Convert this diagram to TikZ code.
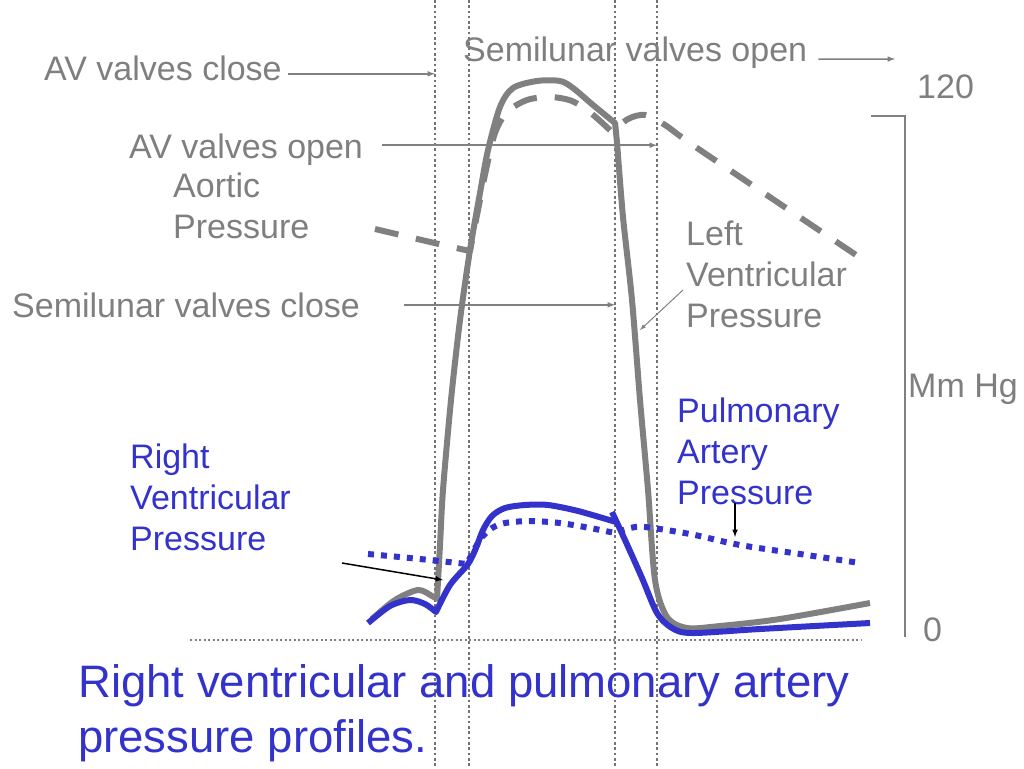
\documentclass[tikz,border=0pt]{standalone}
\usepackage{fontspec}
\setmainfont{Liberation Sans}
\definecolor{gtext}{RGB}{127,127,127}
\definecolor{gline}{RGB}{128,128,128}
\definecolor{rvblue}{RGB}{51,51,204}
\begin{document}
\begin{tikzpicture}[x=1pt,y=-1pt,
        lbl/.style={anchor=base west,inner sep=0pt,text=gtext,font=\fontsize{34}{41}\selectfont,align=left},
        blbl/.style={lbl,text=rvblue},
        garr/.style={-latex,gline,line width=1.5pt},
        karr/.style={-latex,black,line width=1.5pt},
        vdot/.style={gline!90!black,line width=2.8pt,dash pattern=on 2.6pt off 2.7pt},
        curve/.style={line width=6pt,line join=round}]
        \useasboundingbox (0,0) rectangle (1024,768);
        \foreach \x/\n in {435/v1,469/v2,615/v3,657/v4} \draw[vdot] (\x,0) coordinate (\n) -- (\x,768);
        \draw[gline,line width=2pt,dash pattern=on 2pt off 2.5pt] (190,640) -- (862,640);
        \draw[gline,line width=2.5pt] (871,116) -- (905,116) -- (905,637);
        % aortic and left ventricular pressure
        \draw[curve,gline] plot[smooth] coordinates {(372,619) (395,600) (418,590) (432,596) (437,599)} -- plot[smooth] coordinates {(437,599) (440,545) (443,490) (451,400) (460,320) (470,250) (480,193) (488,150) (500,107) (513,88) (537,81) (560,81) (573,88) (593,105) (615,123)} -- plot[smooth] coordinates {(615,123) (617,143) (623,217) (632,300) (640,400) (648,490) (655,580) (667,617) (687,628) (720,626) (780,619) (870,603)};
        \draw[curve,gline,dash pattern=on 24pt off 18pt] plot[smooth] coordinates {(375,229) (443,245) (470,251)} -- plot[smooth] coordinates {(470,251) (478,210) (486,170) (495,133) (507,112) (527,100) (550,97) (572,101) (592,114) (612,132)} -- plot[smooth] coordinates {(612,132) (628,119) (645,115) (665,125) (700,150) (862,259)};
        % right ventricular and pulmonary pressure
        \draw[curve,rvblue] plot[smooth] coordinates {(368,623) (390,606) (410,600) (425,604) (436,612)} -- plot[smooth] coordinates {(436,612) (450,585) (468,564) (476,548) (483,530) (492,516) (505,508) (525,505) (548,505) (578,511) (616,522)};
        \draw[curve,rvblue] plot[smooth] coordinates {(612,512) (625,540) (642,578) (657,613) (672,628) (692,633) (760,629) (870,623)};
        \draw[curve,rvblue,dash pattern=on 6pt off 7pt] plot[smooth] coordinates {(368,554) (420,559) (467,564)} -- plot[smooth] coordinates {(467,564) (474,550) (482,537) (492,528) (505,523) (530,521) (560,523) (590,528) (615,533)} -- plot[smooth] coordinates {(615,533) (630,528) (645,527) (690,534) (740,545) (800,554) (860,563)};
        % labels
        \node[lbl] (avclose) at (44,80) {AV valves close};
        \node[lbl] (slopen) at (463,62) {Semilunar valves open};
        \node[lbl] (top) at (917,98) {120};
        \node[lbl] (avopen) at (129,158) {AV valves open};
        \node[lbl] (aortic) at (173,238) {Aortic\\Pressure};
        \node[lbl] (slclose) at (12,317) {Semilunar valves close};
        \node[lbl] (lvp) at (686,327) {Left\\Ventricular\\Pressure};
        \node[lbl] (unit) at (908,397) {Mm Hg};
        \node[blbl] (pap) at (677,504) {Pulmonary\\Artery\\Pressure};
        \node[blbl] (rvp) at (130,550) {Right\\Ventricular\\Pressure};
        \node[lbl] (zero) at (923,641) {0};
        \node[blbl,font=\fontsize{45.5}{55}\selectfont] (title) at (78,752) {Right ventricular and pulmonary artery\\pressure profiles.};
        % arrows
        \coordinate (avcloseS) at ([xshift=6pt,yshift=-6pt]avclose.east);
        \coordinate (slopenS) at ([xshift=11pt,yshift=-6pt]slopen.east);
        \coordinate (slopenE) at (895,59);
        \coordinate (avopenS) at ([xshift=19pt,yshift=4pt]avopen.east);
        \coordinate (slcloseS) at ([xshift=44pt]slclose.east);
        \coordinate (lvpS) at (683,290);
        \coordinate (lvpE) at (640,330);
        \coordinate (papS) at (735,503);
        \coordinate (papE) at (735,537);
        \coordinate (rvpS) at (342,563);
        \coordinate (rvpE) at (443,580);
        \draw[garr] (avcloseS) -- (avcloseS -| v1);
        \draw[garr] (slopenS) -- (slopenE);
        \draw[garr] (avopenS) -- (avopenS -| v4);
        \draw[garr] (slcloseS) -- (slcloseS -| v3);
        \draw[garr,line width=1pt] (lvpS) -- (lvpE);
        \draw[karr] (papS) -- (papE);
        \draw[karr] (rvpS) -- (rvpE);
    \end{tikzpicture}
\end{document}
